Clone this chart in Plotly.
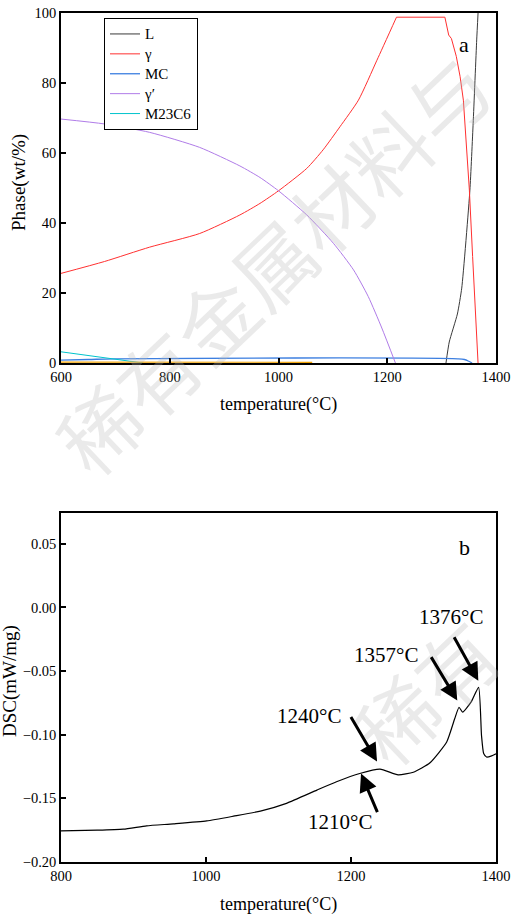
import plotly.graph_objects as go

# ---------------- data: (a) phase fractions ----------------
T_L = [1308, 1314, 1329, 1337, 1352, 1358, 1364.5, 1367]
L_vals = [0, 6, 14, 21.4, 49.4, 68.5, 92.3, 100]

T_gamma_rise = [600, 680, 763, 855, 929, 966, 1000, 1052, 1082, 1113, 1147, 1181, 1217]
gamma_rise = [25.6, 29.0, 33.1, 37.0, 42.3, 45.6, 49.2, 55.6, 60.9, 67.5, 75.1, 86.5, 98.8]
T_gamma_fall = [1217, 1306, 1313, 1318, 1327, 1334, 1340, 1343, 1351, 1357, 1360, 1367]
gamma_fall = [98.8, 98.8, 93.7, 92.7, 87.6, 81.8, 75.1, 68.5, 49.4, 30.4, 21.4, 0]

T_MC = [600, 650, 700, 1330, 1342, 1350, 1356]
MC_vals = [0.8, 1.0, 1.2, 1.2, 1.0, 0.5, 0]

T_gp = [600, 680, 763, 855, 929, 966, 1000, 1052, 1101, 1138, 1165, 1190, 1215]
gp_vals = [69.7, 68.3, 65.9, 61.6, 56.3, 53.0, 49.2, 42.3, 34.2, 26.6, 19.0, 10.0, 0]

T_M23 = [600, 680, 751]
M23_vals = [3.2, 1.6, 0]

T_other = [600, 800, 1000, 1062]
other_vals = [0.25, 0.25, 0.25, 0.2]

legend_names = ["L", "γ", "MC", "γ′", "M23C6"]

# ---------------- data: (b) DSC ----------------
T_dsc = [800, 850, 886, 918, 955, 1001, 1038, 1075, 1111, 1153, 1180, 1212, 1240,
         1265, 1286, 1309, 1332, 1343, 1349, 1354, 1366, 1376, 1380, 1383, 1387, 1394, 1400]
dsc_vals = [-0.1755, -0.175, -0.1742, -0.1716, -0.170, -0.1677, -0.164, -0.160, -0.1539,
            -0.1435, -0.137, -0.1305, -0.127, -0.1315, -0.1295, -0.122, -0.1057, -0.0875,
            -0.0784, -0.0823, -0.074, -0.0628, -0.1005, -0.1148, -0.1175, -0.1166, -0.115]

peak_labels = ["1376°C", "1357°C", "1240°C", "1210°C"]
arrow_T = [1375.6, 1346.6, 1235.9, 1213.8]
arrow_v = [-0.0576, -0.0732, -0.1211, -0.1305]
arrow_dx = [-25, -27, -27, 17]
arrow_dy = [-45, -45, -46, 40]
label_px = [(451, 617), (385.5, 655), (309, 716), (339.5, 822)]

x_ticks_a = [600, 800, 1000, 1200, 1400]
y_ticks_a = [0, 20, 40, 60, 80, 100]
x_ticks_b = [800, 1000, 1200, 1400]
y_ticks_b = [-0.20, -0.15, -0.10, -0.05, 0.00, 0.05]

W, H = 512, 915
FONT = "Liberation Serif, Times New Roman, serif"

def px(xp):
    return xp / W

def py(yp):
    return 1 - yp / H

def lg(name):
    return '<span style="font-size:15px">' + name + '</span>'

fig = go.Figure()

fig.add_trace(go.Scatter(x=T_L, y=L_vals, mode="lines", name=lg(legend_names[0]),
                         line=dict(color="#3a3a3a", width=1, shape="spline", smoothing=0.5),
                         xaxis="x", yaxis="y"))
fig.add_trace(go.Scatter(x=T_gamma_rise, y=gamma_rise, mode="lines", name=lg(legend_names[1]),
                         legendgroup="g",
                         line=dict(color="#ff3030", width=1, shape="spline", smoothing=0.6),
                         xaxis="x", yaxis="y"))
fig.add_trace(go.Scatter(x=T_MC, y=MC_vals, mode="lines", name=lg(legend_names[2]),
                         line=dict(color="#3d7fe0", width=1.3, shape="spline"), xaxis="x", yaxis="y"))
fig.add_trace(go.Scatter(x=T_gp, y=gp_vals, mode="lines", name=lg(legend_names[3]),
                         line=dict(color="#b07ce8", width=1, shape="spline", smoothing=0.6),
                         xaxis="x", yaxis="y"))
fig.add_trace(go.Scatter(x=T_M23, y=M23_vals, mode="lines", name=lg(legend_names[4]),
                         line=dict(color="#00c4cc", width=1), xaxis="x", yaxis="y"))
fig.add_trace(go.Scatter(x=T_gamma_fall, y=gamma_fall, mode="lines", showlegend=False,
                         legendgroup="g",
                         line=dict(color="#ff3030", width=1),
                         xaxis="x", yaxis="y"))
fig.add_trace(go.Scatter(x=T_other, y=other_vals, mode="lines", showlegend=False,
                         line=dict(color="#f0a000", width=1.2), xaxis="x", yaxis="y"))

fig.add_trace(go.Scatter(x=T_dsc, y=dsc_vals, mode="lines", showlegend=False,
                         line=dict(color="black", width=1.2, shape="spline", smoothing=0.5),
                         xaxis="x2", yaxis="y2"))

axis_common = dict(showline=True, linecolor="black", linewidth=1.5, mirror=True,
                   ticks="inside", ticklen=5, tickwidth=1.5, tickcolor="black",
                   showgrid=False, zeroline=False, automargin=False,
                   tickfont=dict(family=FONT, size=14.5, color="black"))

fig.update_layout(
    template="none",
    width=W, height=H,
    margin=dict(l=0, r=0, t=0, b=0, pad=0),
    paper_bgcolor="white", plot_bgcolor="white",
    font=dict(family=FONT, color="black"),
    xaxis=dict(domain=[px(61), px(496)], range=[600, 1400], tickvals=x_ticks_a,
               anchor="y", **axis_common),
    yaxis=dict(domain=[py(363), py(13)], range=[0, 100], tickvals=y_ticks_a,
               anchor="x", **axis_common),
    xaxis2=dict(domain=[px(61), px(496)], range=[800, 1400], tickvals=x_ticks_b,
                anchor="y2", **axis_common),
    yaxis2=dict(domain=[py(862), py(513)], range=[-0.2, 0.0742], tickvals=y_ticks_b,
                tickformat=".2f", anchor="x2", **axis_common),
    legend=dict(x=px(104), y=py(18), xanchor="left", yanchor="top",
                bgcolor="white", bordercolor="black", borderwidth=1,
                font=dict(family=FONT, size=13, color="black"),
                tracegroupgap=0, itemwidth=30, traceorder="normal"),
    showlegend=True,
)

annotations = []
wm_font = dict(family="Noto Sans CJK SC", size=80, color="rgba(185,185,185,0.3)")
# watermark
annotations.append(dict(xref="paper", yref="paper", x=px(272), y=py(262),
                        xanchor="center", yanchor="middle",
                        text="稀有金属材料与", showarrow=False, textangle=-43.6, font=wm_font))
annotations.append(dict(xref="paper", yref="paper", x=px(425), y=py(690),
                        xanchor="center", yanchor="middle",
                        text="稀有", showarrow=False, textangle=-43.6, font=wm_font))

def label(x, y, text, size, angle=0):
    return dict(xref="paper", yref="paper", x=px(x), y=py(y), text=text,
                xanchor="center", yanchor="middle", showarrow=False, textangle=angle,
                font=dict(family=FONT, size=size, color="black"))

# axis titles
annotations.append(label(19, 183, "Phase(wt/%)", 19, -90))
annotations.append(label(10, 681, "DSC(mW/mg)", 19, -90))
annotations.append(label(278, 404, "temperature(°C)", 18))
annotations.append(label(278, 904, "temperature(°C)", 18))
# panel letters
annotations.append(label(464, 44, "a", 22))
annotations.append(label(464, 547, "b", 22))

# peak arrows and labels
for lab, t, v, dx, dy, (lx, ly) in zip(peak_labels, arrow_T, arrow_v, arrow_dx, arrow_dy, label_px):
    annotations.append(dict(xref="x2", yref="y2", x=t, y=v, ax=dx, ay=dy, text="",
                            showarrow=True, arrowhead=2, arrowsize=1.2, arrowwidth=3,
                            arrowcolor="black"))
    annotations.append(label(lx, ly, lab, 21))

fig.update_layout(annotations=annotations)

fig.write_html("out.html", config={"displayModeBar": False},
               post_script="document.body.style.margin='0px';document.body.style.overflow='hidden';")
